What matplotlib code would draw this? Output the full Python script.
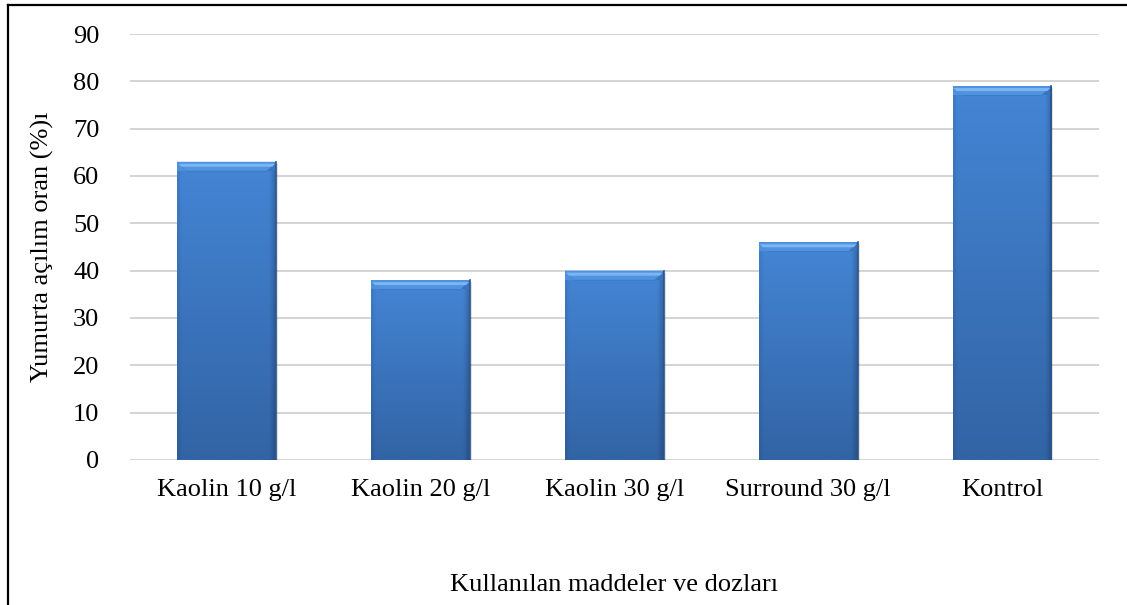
import numpy as np
import matplotlib.pyplot as plt
from matplotlib.patches import Polygon, Rectangle
from matplotlib.lines import Line2D
from matplotlib.colors import to_rgb

categories = ['Kaolin 10 g/l', 'Kaolin 20 g/l', 'Kaolin 30 g/l', 'Surround 30 g/l', 'Kontrol']
values = [63, 38, 40, 46, 79]
yticks = [0, 10, 20, 30, 40, 50, 60, 70, 80, 90]

plt.rcParams['font.family'] = ['Liberation Serif', 'DejaVu Serif']
FS = 19

fig = plt.figure(figsize=(11.27, 6.05), dpi=100)
ax = fig.add_axes([0.1153, 0.2397, 0.8597, 0.7041])

x = np.arange(len(categories))
width = 0.51

ax.set_xlim(-0.5, len(categories) - 0.5)
ax.set_ylim(0, 90)
ax.set_yticks(yticks)
ax.yaxis.grid(True, color='#d4d4d4', linewidth=1.4)
ax.set_axisbelow(True)
for s in ax.spines.values():
    s.set_visible(False)
ax.tick_params(length=0, labelsize=FS)
ax.tick_params(axis='y', pad=22)
ax.tick_params(axis='x', pad=14)
ax.set_xticks(x)
ax.set_xticklabels(categories)
ax.set_ylabel('Yumurta açılım oran (%)ı', fontsize=FS, labelpad=14)
ax.set_xlabel('Kullanılan maddeler ve dozları', fontsize=FS, labelpad=52)

# pixel -> data unit conversion for bevel sizes
px_x = 5 / 969.0
px_y = 90 / 426.0

bars = ax.bar(x, values, width, color='#3d78c4', zorder=2)

top_c = np.array(to_rgb('#4485d5'))
bot_c = np.array(to_rgb('#3264a5'))
for b in bars:
    x0 = b.get_x()
    x1 = x0 + b.get_width()
    h = b.get_height()
    # soft shadow to the right / bottom
    ax.add_patch(Rectangle((x0 + 2 * px_x, -2 * px_y), x1 - x0, h, color='#000000',
                           alpha=0.12, zorder=1.5, lw=0))
    # vertical gradient body with darker edges
    ny, nx = 100, 60
    t = np.linspace(0, 1, ny)[:, None, None]
    col = top_c * (1 - t) + bot_c * t
    u = np.linspace(0, 1, nx)
    edge = np.ones(nx)
    edge -= 0.2 * np.clip((u - 0.94) / 0.06, 0, 1)
    edge -= 0.08 * np.clip((0.04 - u) / 0.04, 0, 1)
    img = np.clip(col * edge[None, :, None], 0, 1)
    im = ax.imshow(img, extent=[x0, x1, 0, h], origin='upper', aspect='auto',
                   zorder=2.1, interpolation='bilinear')
    im.set_clip_path(b)
    # top bevel
    bx = 9 * px_x
    by = 9 * px_y
    ax.add_patch(Polygon([[x0, h], [x1, h], [x1 - bx, h - by], [x0 + bx, h - by]],
                         closed=True, color='#5094e0', lw=0, zorder=2.2))
    ax.add_patch(Polygon([[x0 + 1 * px_x, h - 2 * px_y], [x1 - 1 * px_x, h - 2 * px_y],
                          [x1 - 4 * px_x, h - 5 * px_y], [x0 + 4 * px_x, h - 5 * px_y]],
                         closed=True, color='#7cb6f2', lw=0, zorder=2.3))
    ax.add_patch(Polygon([[x1, h], [x1, h - by], [x1 - bx, h - by]],
                         closed=True, color='#3a74bf', lw=0, zorder=2.25))
    ax.add_patch(Polygon([[x0, h], [x0, h - by], [x0 + bx, h - by]],
                         closed=True, color='#4f90dc', lw=0, zorder=2.25))
    ax.plot([x0 + bx, x1 - bx], [h - by, h - by], color='#3f7cc8', lw=0.8, zorder=2.35)
    # thin dark outline at right edge
    ax.plot([x1, x1], [0, h], color='#2a5590', lw=1.2, zorder=2.4)

ax.set_xlim(-0.5, len(categories) - 0.5)
ax.set_ylim(0, 90)

# frame lines along top and left of the chart area
fig.add_artist(Line2D([8 / 1127, 1], [1 - 5 / 605, 1 - 5 / 605], color='black', lw=1.6,
                      transform=fig.transFigure))
fig.add_artist(Line2D([8 / 1127, 8 / 1127], [0, 1 - 5 / 605], color='black', lw=1.6,
                      transform=fig.transFigure))

fig.savefig('out.png', dpi=100)
